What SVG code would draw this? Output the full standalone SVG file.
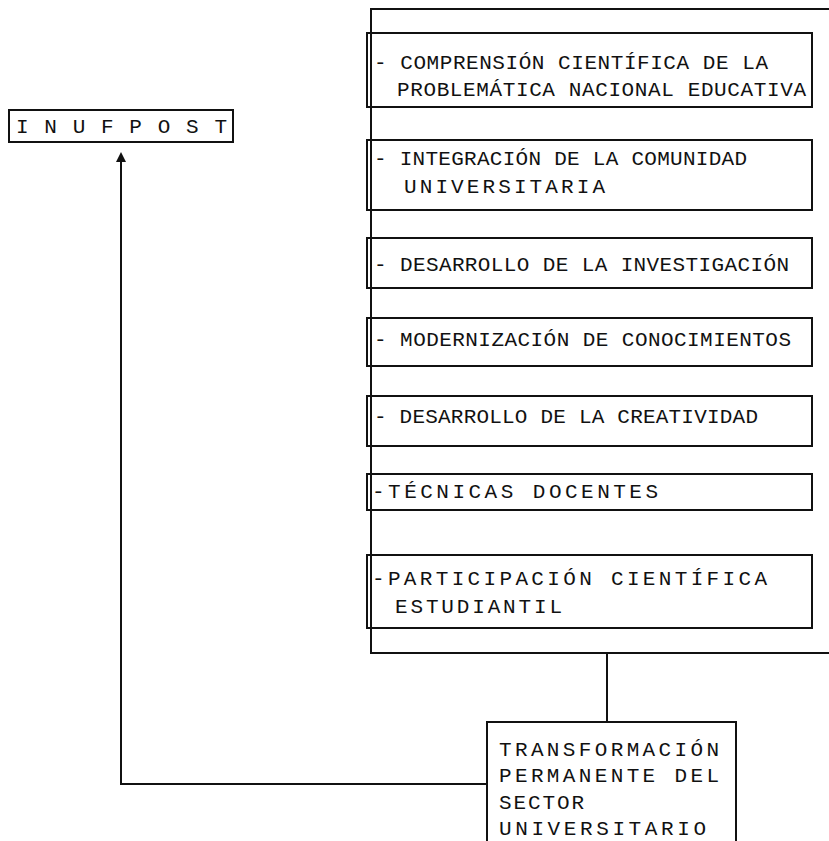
<svg xmlns="http://www.w3.org/2000/svg" width="829" height="841" viewBox="0 0 829 841">
<style>
.box{fill:none;stroke:#111;stroke-width:2}
.t{font-family:"Liberation Mono","Courier New",monospace;font-size:21px;fill:#111}
.ln{fill:none;stroke:#111;stroke-width:2}
</style>
<rect width="829" height="841" fill="#fff"/>
<g id="connectors">
<line class="ln" x1="607" y1="653" x2="607" y2="722"/>
<polyline class="ln" points="487,784 121,784 121,160"/>
<path d="M116,162 L121,152 L126,162 Z" fill="#111"/>
</g>
<g id="inufpost">
<rect class="box" x="9" y="110" width="224" height="32"/>
<text class="t" x="16" y="133" textLength="211" lengthAdjust="spacing">I N U F P O S T</text>
</g>
<g id="outer">
<polyline class="box" points="829,9 371,9 371,653 829,653"/>
</g>
<g id="n1">
<rect class="box" x="367" y="33" width="445" height="74"/>
<text class="t" x="374" y="69" textLength="394" lengthAdjust="spacing">- COMPRENSIÓN CIENTÍFICA DE LA</text>
<text class="t" x="397" y="96" textLength="409" lengthAdjust="spacing">PROBLEMÁTICA NACIONAL EDUCATIVA</text>
</g>
<g id="n2">
<rect class="box" x="367" y="140" width="445" height="70"/>
<text class="t" x="374" y="165" textLength="373" lengthAdjust="spacing">- INTEGRACIÓN DE LA COMUNIDAD</text>
<text class="t" x="404" y="193" textLength="201" lengthAdjust="spacing">UNIVERSITARIA</text>
</g>
<g id="n3">
<rect class="box" x="367" y="238" width="445" height="50"/>
<text class="t" x="374" y="271" textLength="415" lengthAdjust="spacing">- DESARROLLO DE LA INVESTIGACIÓN</text>
</g>
<g id="n4">
<rect class="box" x="367" y="318" width="445" height="48"/>
<text class="t" x="374" y="346" textLength="417" lengthAdjust="spacing">- MODERNIZACIÓN DE CONOCIMIENTOS</text>
</g>
<g id="n5">
<rect class="box" x="367" y="396" width="445" height="50"/>
<text class="t" x="374" y="423" textLength="384" lengthAdjust="spacing">- DESARROLLO DE LA CREATIVIDAD</text>
</g>
<g id="n6">
<rect class="box" x="367" y="474" width="445" height="36"/>
<text class="t" x="372" y="498" textLength="286" lengthAdjust="spacing">-TÉCNICAS DOCENTES</text>
</g>
<g id="n7">
<rect class="box" x="367" y="555" width="445" height="73"/>
<text class="t" x="372" y="585" textLength="395" lengthAdjust="spacing">-PARTICIPACIÓN CIENTÍFICA</text>
<text class="t" x="395" y="613" textLength="167" lengthAdjust="spacing">ESTUDIANTIL</text>
</g>
<g id="n8">
<polyline class="box" points="487,841 487,722 736,722 736,841"/>
<text class="t" x="499" y="756" textLength="220" lengthAdjust="spacing">TRANSFORMACIÓN</text>
<text class="t" x="499" y="782" textLength="220" lengthAdjust="spacing">PERMANENTE DEL</text>
<text class="t" x="499" y="809" textLength="85" lengthAdjust="spacing">SECTOR</text>
<text class="t" x="499" y="835" textLength="207" lengthAdjust="spacing">UNIVERSITARIO</text>
</g>
</svg>
